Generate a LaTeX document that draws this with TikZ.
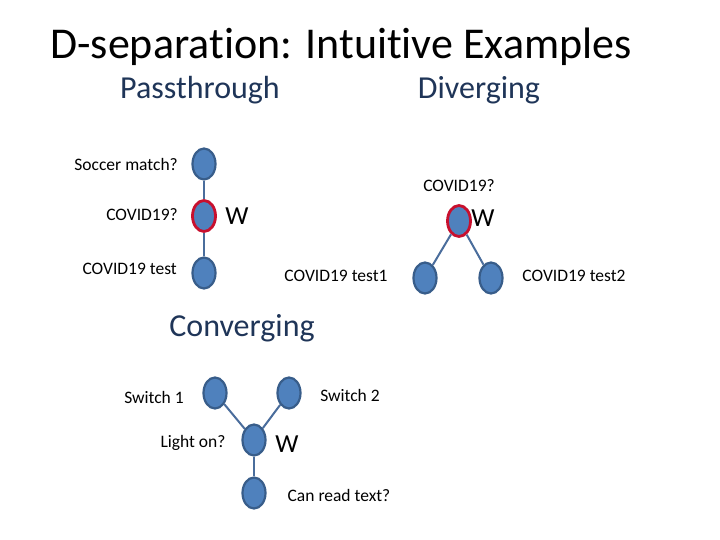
\documentclass[tikz,border=0pt]{standalone}
\usepackage{fontspec}
\setmainfont[RawFeature={-liga;-clig;-calt;-dlig}]{Carlito}
\usetikzlibrary{shapes.geometric}
\definecolor{nodefill}{HTML}{4F81BD}
\definecolor{nodeedge}{HTML}{385D8A}
\definecolor{obsred}{HTML}{C8102E}
\definecolor{edgecol}{HTML}{4A6D9C}
\definecolor{headcol}{HTML}{1F3558}
\begin{document}
\begin{tikzpicture}[x=1pt,y=-1pt,
  var/.style={ellipse,draw=nodeedge,fill=nodefill,line width=2.2pt,minimum width=23pt,minimum height=31pt,inner sep=0pt},
  obs/.style={var,draw=obsred,line width=2.8pt},
  conn/.style={draw=edgecol,line width=2pt},
  lbl/.style={font=\fontsize{17.5}{20}\selectfont,inner sep=0pt},
  wlbl/.style={font=\fontsize{26}{28}\selectfont,inner sep=0pt},
  head/.style={font=\fontsize{32}{36}\selectfont,inner sep=0pt,text=headcol}]
\useasboundingbox (0,0) rectangle (720,540);
\fill[white] (0,0) rectangle (720,540);
\node[font=\fontsize{44}{48}\selectfont,inner sep=0pt,text=black] (title) at (341,47) {D-separation: Intuitive Examples};
\node[head] (hpass) at (200,90) {Passthrough};
\node[head] (hdiv) at (479,90) {Diverging};
\node[head] (hconv) at (242,328) {Converging};
% passthrough
\node[var] (soccer) at (204,164) {};
\node[obs] (covid) at (204,216) {};
\node[var] (test) at (204,273) {};
\draw[conn] (soccer) -- (covid);
\draw[conn] (covid) -- (test);
\node[lbl,anchor=east] (lsoccer) at (178,164) {Soccer match?};
\node[lbl,anchor=east] (lcovid) at (178,215) {COVID19?};
\node[lbl,anchor=east] (ltest) at (177,269) {COVID19 test};
\node[wlbl] (w1) at (237,216) {W};
% diverging
\node[obs] (dcovid) at (459,221) {};
\node[var] (t1) at (425,278) {};
\node[var] (t2) at (491,278) {};
\draw[conn] (dcovid) -- (t1);
\draw[conn] (dcovid) -- (t2);
\node[lbl] (ldcovid) at (459,186) {COVID19?};
\node[wlbl] (w2) at (483,218) {W};
\node[lbl] (lt1) at (336,276) {COVID19 test1};
\node[lbl] (lt2) at (574,276) {COVID19 test2};
% converging
\node[var] (s1) at (215,393) {};
\node[var] (s2) at (289,393) {};
\node[var] (light) at (254,440) {};
\node[var] (read) at (254,493) {};
\draw[conn] (s1) -- (light);
\draw[conn] (s2) -- (light);
\draw[conn] (light) -- (read);
\node[lbl] (ls1) at (154,397) {Switch 1};
\node[lbl] (ls2) at (350,395) {Switch 2};
\node[lbl] (llight) at (193,443) {Light on?};
\node[wlbl] (w3) at (287,444) {W};
\node[lbl] (lread) at (339,495) {Can read text?};
\end{tikzpicture}
\end{document}
